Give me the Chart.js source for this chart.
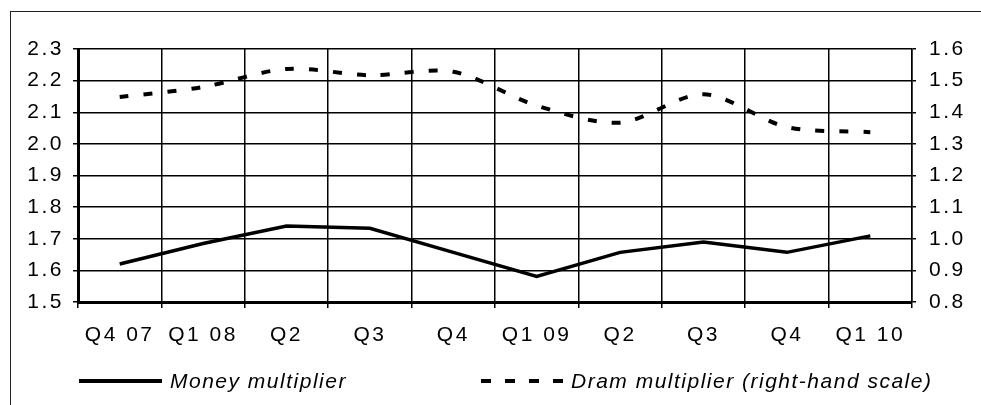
<!DOCTYPE html>
<html>
<head>
<meta charset="utf-8">
<script src="https://cdn.jsdelivr.net/npm/chart.js@4"></script>
<style>
    html, body { margin: 0; padding: 0; background: #fff; }
    #wrap { position: relative; width: 981px; height: 405px; overflow: hidden; }
    #frame { position: absolute; left: 10px; top: 11px; right: -2px; bottom: -2px;
             border-left: 1.5px solid #222; border-top: 1.5px solid #222; }
    canvas { position: absolute; left: 0; top: 0; }
    .leg { position: absolute; top: 369px; height: 24px; display: flex; align-items: center;
           font: italic 21px "Liberation Sans", Arial, sans-serif; letter-spacing: 1.5px; color: #000; }
    .leg .sample { height: 4px; margin-right: 8px; }
</style>
</head>
<body>
<div id="wrap">
    <div id="frame"></div>
    <canvas id="chart" width="981" height="405"></canvas>
    <div class="leg" style="left:79px"><div class="sample" style="width:83px;background:#000"></div>Money multiplier</div>
    <div class="leg" style="left:481px"><div class="sample" style="width:82px;background:repeating-linear-gradient(to right,#000 0 10px,transparent 10px 24px)"></div>Dram multiplier (right-hand scale)</div>
</div>
<script>
const quarters = ['Q4 07', 'Q1 08', 'Q2', 'Q3', 'Q4', 'Q1 09', 'Q2', 'Q3', 'Q4', 'Q1 10'];
const moneyMultiplier = [1.62, 1.685, 1.74, 1.733, 1.657, 1.581, 1.657, 1.69, 1.657, 1.709];
const dramMultiplier = [1.448, 1.48, 1.537, 1.517, 1.528, 1.421, 1.367, 1.457, 1.353, 1.337];

const FONT = { family: '"Liberation Sans", Arial, sans-serif', size: 21 };

// canvas letter spacing to match the wide tick text
const spacing = {
    id: 'spacing',
    beforeLayout(chart) { chart.ctx.letterSpacing = '2.5px'; },
    beforeDraw(chart) { chart.ctx.letterSpacing = '2.5px'; }
};

new Chart(document.getElementById('chart'), {
    type: 'line',
    data: {
        labels: quarters,
        datasets: [{
            label: 'Money multiplier',
            data: moneyMultiplier,
            yAxisID: 'y',
            borderColor: '#000',
            borderWidth: 3.5,
            pointRadius: 0,
            tension: 0,
            fill: false
        }, {
            label: 'Dram multiplier (right-hand scale)',
            data: dramMultiplier,
            yAxisID: 'y1',
            borderColor: '#000',
            borderWidth: 4,
            borderDash: [9, 15],
            pointRadius: 0,
            tension: 0.3,
            fill: false
        }]
    },
    options: {
        responsive: false,
        animation: false,
        layout: { padding: { top: 49 } },
        plugins: { legend: { display: false }, tooltip: { enabled: false } },
        scales: {
            x: {
                offset: true,
                grid: { offset: true, color: '#000', lineWidth: 1.5, tickLength: 6, tickColor: '#000' },
                border: { color: '#000', width: 3 },
                ticks: { color: '#000', font: FONT, padding: 15, maxRotation: 0, autoSkip: false },
                afterFit(scale) { scale.height = 103; }
            },
            y: {
                position: 'left',
                min: 1.5,
                max: 2.3,
                grid: { color: '#000', lineWidth: 1.5, tickLength: 5, tickColor: '#000' },
                border: { color: '#000', width: 3 },
                ticks: { stepSize: 0.1, color: '#000', font: FONT, padding: 9,
                         callback: v => v.toFixed(1) },
                afterFit(scale) { scale.width = 78; }
            },
            y1: {
                position: 'right',
                min: 0.8,
                max: 1.6,
                grid: { drawOnChartArea: false, tickLength: 4, tickColor: '#000', lineWidth: 1.5 },
                border: { color: '#000', width: 1.5 },
                ticks: { stepSize: 0.1, color: '#000', font: FONT, padding: 13,
                         callback: v => v.toFixed(1) },
                afterFit(scale) { scale.width = 69; }
            }
        }
    },
    plugins: [spacing]
});
</script>
</body>
</html>
